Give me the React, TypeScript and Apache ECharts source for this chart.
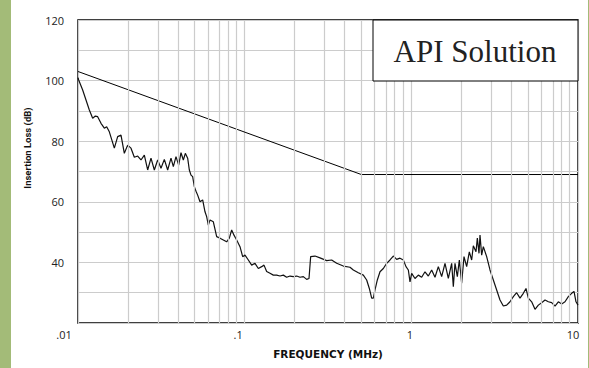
import React, { useEffect, useRef } from "react";
import * as echarts from "echarts";

// x values are log10(frequency in MHz)
const freqLog = [
  -2.0, -1.996, -1.972, -1.952, -1.932, -1.912, -1.896, -1.882, -1.862, -1.842, -1.828, -1.812,
  -1.782, -1.762, -1.742, -1.722, -1.702, -1.682, -1.662, -1.642, -1.622, -1.602, -1.582, -1.562,
  -1.542, -1.522, -1.502, -1.482, -1.462, -1.442, -1.428, -1.412, -1.396, -1.382, -1.368, -1.356,
  -1.342, -1.332, -1.322, -1.312, -1.302, -1.292, -1.282, -1.268, -1.252, -1.238, -1.228, -1.218,
  -1.208, -1.188, -1.168, -1.148, -1.128, -1.108, -1.092, -1.078, -1.064, -1.048, -1.028, -1.012,
  -0.998, -0.978, -0.958, -0.938, -0.918, -0.898, -0.884, -0.868, -0.848, -0.828, -0.808, -0.788,
  -0.768, -0.748, -0.728, -0.708, -0.688, -0.668, -0.648, -0.628, -0.614, -0.604, -0.578, -0.548,
  -0.508, -0.478, -0.448, -0.408, -0.368, -0.348, -0.318, -0.288, -0.268, -0.252, -0.238, -0.228,
  -0.218, -0.204, -0.188, -0.168, -0.148, -0.128, -0.108, -0.088, -0.068, -0.048, -0.032, -0.018,
  -0.008, 0.002, 0.022, 0.042, 0.062, 0.082, 0.102, 0.122, 0.142, 0.162, 0.182, 0.202, 0.222,
  0.242, 0.252, 0.262, 0.276, 0.288, 0.302, 0.316, 0.332, 0.348, 0.362, 0.372, 0.388, 0.396, 0.406,
  0.412, 0.422, 0.432, 0.452, 0.472, 0.492, 0.512, 0.532, 0.552, 0.572, 0.592, 0.612, 0.632, 0.652,
  0.672, 0.688, 0.702, 0.722, 0.742, 0.762, 0.782, 0.802, 0.822, 0.842, 0.862, 0.882, 0.902, 0.922,
  0.942, 0.962, 0.976, 0.988, 1.0,
];
const lossDb = [
  101, 100.2, 96.9, 93.6, 90.3, 87.6, 88.3, 88.1, 85.9, 84.3, 84.8, 83.1,
  77.7, 81.5, 82.0, 76.0, 78.7, 77.7, 74.7, 75.1, 73.8, 75.4, 70.5, 74.4,
  70.5, 73.8, 71.1, 74.0, 70.5, 74.4, 71.6, 74.9, 72.1, 76.2, 73.8, 76.0,
  74.4, 70.5, 68.8, 68.3, 65.0, 63.5, 62.2, 60.0, 60.6, 56.7, 55.1, 52.3,
  54.0, 53.4, 48.5, 48.0, 47.4, 46.8, 48.0, 50.7, 49.0, 47.4, 45.2, 41.9,
  42.4, 40.8, 39.1, 39.7, 38.0, 38.6, 39.1, 37.0, 36.4, 35.8, 35.8, 35.5,
  35.8, 35.1, 35.5, 35.3, 35.5, 35.1, 35.3, 34.4, 34.7, 41.9, 42.1, 41.5,
  40.6, 40.8, 39.7, 38.8, 38.4, 37.5, 36.6, 35.8, 34.2, 31.4, 28.2, 28.2,
  30.9, 34.2, 36.9, 38.0, 39.7, 40.8, 42.1, 41.0, 41.4, 40.8, 38.6, 37.5,
  33.6, 36.4, 34.7, 35.8, 35.1, 36.9, 35.5, 37.5, 35.1, 38.6, 35.3, 39.7, 34.7,
  39.7, 32.0, 39.7, 35.3, 40.8, 33.1, 41.9, 38.6, 43.5, 40.8, 45.5, 43.5, 48.0, 43.0,
  49.0, 42.4, 45.2, 41.9, 37.5, 34.2, 30.9, 27.6, 25.6, 25.9, 27.0, 28.7, 30.0, 28.2,
  29.8, 31.4, 28.2, 27.0, 24.5, 25.9, 26.7, 27.6, 27.0, 26.7, 25.6, 27.0, 26.3, 27.0,
  28.7, 29.8, 30.4, 27.0, 25.9,
];

const limitLog = [-2, -0.3, 1];
const limitDb = [103, 69, 69];

const xTickLabels: Record<string, string> = { "-2": ".01", "-1": ".1", "0": "1", "1": "10" };
const yTickLabels = [40, 60, 80, 100, 120];

const titleText = "API Solution";
const xName = "FREQUENCY (MHz)";
const yName = "Insertion Loss (dB)";

export default function App() {
  const ref = useRef<HTMLDivElement>(null);
  useEffect(() => {
    if (!ref.current) return;
    const chart = echarts.init(ref.current, undefined, { renderer: "svg" });
    const minors: number[] = [];
    for (let d = -2; d < 1; d++) {
      for (let k = 2; k <= 9; k++) minors.push(Math.log10(k * Math.pow(10, d)));
    }
    const labelFont = "'Open Sans', sans-serif";
    chart.setOption({
      animation: false,
      backgroundColor: "#ffffff",
      grid: {
        left: 78,
        right: 11,
        top: 20,
        bottom: 45,
        show: true,
        borderColor: "#000",
        borderWidth: 1.5,
        backgroundColor: "transparent",
      },
      xAxis: {
        type: "value",
        min: -2,
        max: 1,
        interval: 1,
        name: xName,
        nameLocation: "middle",
        nameGap: 25,
        nameTextStyle: { fontFamily: "'DejaVu Sans', sans-serif", fontWeight: "bold", fontSize: 10.5, color: "#111" },
        axisLine: { show: false },
        axisTick: { show: false },
        splitLine: { show: true, lineStyle: { color: "#cccccc", width: 1.2 } },
        axisLabel: {
          showMinLabel: true,
          showMaxLabel: true,
          margin: 6,
          formatter: (v: number) => {
            const r = Math.round(v);
            const t = xTickLabels[String(r)] ?? "";
            const key = r === -2 ? "a" : r === -1 ? "b" : r === 0 ? "c" : "d";
            return `{${key}|${t}}`;
          },
          rich: {
            a: { fontFamily: labelFont, fontSize: 11, color: "#222", padding: [0, 28, 0, 0] },
            b: { fontFamily: labelFont, fontSize: 11, color: "#222", padding: [0, 13, 0, 0] },
            c: { fontFamily: labelFont, fontSize: 11, color: "#222", padding: [0, 3, 0, 0] },
            d: { fontFamily: labelFont, fontSize: 11, color: "#222", padding: [0, 10, 0, 0] },
          },
        },
      },
      yAxis: {
        type: "value",
        min: 20,
        max: 120,
        interval: 10,
        axisLine: { show: false },
        axisTick: { show: false },
        splitLine: { show: true, lineStyle: { color: "#cccccc", width: 1.2 } },
        axisLabel: {
          margin: 14,
          fontFamily: labelFont,
          fontSize: 11,
          color: "#222",
          formatter: (v: number) => (yTickLabels.includes(v) ? String(v) : ""),
        },
      },
      series: [
        {
          type: "line",
          z: 1,
          data: [[-2, 20]],
          showSymbol: false,
          lineStyle: { opacity: 0 },
          silent: true,
          markLine: {
            silent: true,
            symbol: "none",
            label: { show: false },
            lineStyle: { color: "#cccccc", width: 1.2, type: "solid" },
            data: minors.map((v) => ({ xAxis: v })),
          },
        },
        {
          type: "line",
          z: 3,
          data: limitLog.map((x, i) => [x, limitDb[i]]),
          showSymbol: false,
          lineStyle: { color: "#000", width: 1 },
          silent: true,
        },
        {
          type: "line",
          z: 4,
          data: freqLog.map((x, i) => [x, lossDb[i]]),
          showSymbol: false,
          lineStyle: { color: "#111", width: 1.2 },
          silent: true,
        },
      ],
      graphic: [
        { type: "rect", shape: { x: 0, y: 0, width: 11, height: 368 }, style: { fill: "#a3bb78" }, silent: true },
        { type: "rect", shape: { x: 588, y: 0, width: 1, height: 368 }, style: { fill: "#a3bb78" }, silent: true },
        {
          type: "rect",
          z: 10,
          shape: { x: 373, y: 20, width: 205, height: 61 },
          style: { fill: "#fff", stroke: "#000", lineWidth: 1 },
          silent: true,
        },
        {
          type: "text",
          z: 11,
          x: 475,
          y: 51,
          style: {
            text: titleText,
            fontFamily: "'Liberation Serif', serif",
            fontSize: 31,
            fill: "#222",
            align: "center",
            verticalAlign: "middle",
          },
          silent: true,
        },
        {
          type: "text",
          x: 27,
          y: 148,
          rotation: Math.PI / 2,
          style: {
            text: yName,
            fontFamily: "Roboto, sans-serif",
            fontWeight: "bold",
            fontSize: 9.5,
            fill: "#111",
            align: "center",
            verticalAlign: "middle",
          },
          silent: true,
        },
      ],
    });
    return () => chart.dispose();
  }, []);
  return <div ref={ref} style={{ position: "absolute", left: 0, top: 0, width: 589, height: 368 }} />;
}
